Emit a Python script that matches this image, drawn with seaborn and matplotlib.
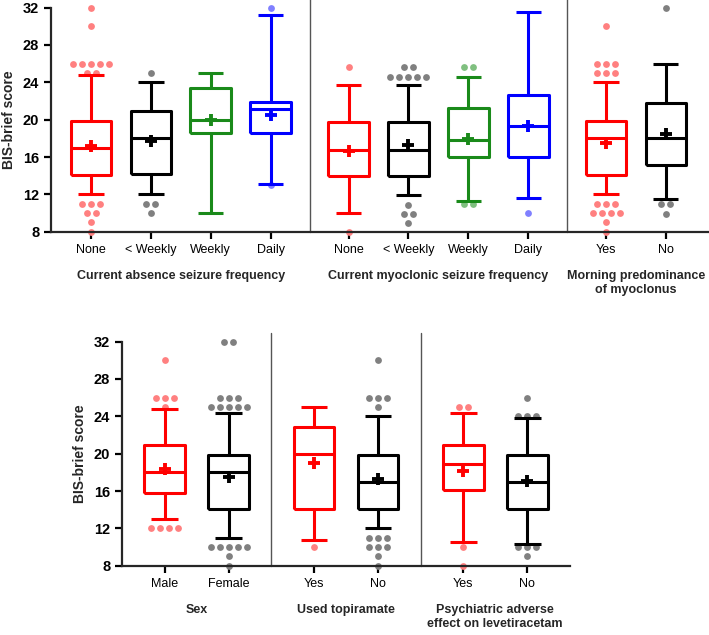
import matplotlib
matplotlib.use("Agg")
import numpy as np
import pandas as pd
import matplotlib.pyplot as plt
import seaborn as sns

# ---- top panel data ----
top_labels = ["None", "< Weekly", "Weekly", "Daily",
              "None", "< Weekly", "Weekly", "Daily",
              "Yes", "No"]
top_groups = [0, 0, 0, 0, 1, 1, 1, 1, 2, 2]
top_titles = ["Current absence seizure frequency",
              "Current myoclonic seizure frequency",
              "Morning predominance\nof myoclonus"]
top_colors = ["red", "black", "green", "blue",
              "red", "black", "green", "blue",
              "red", "black"]
top_med = [17.0, 18.0, 20.0, 21.1, 16.8, 16.8, 17.8, 19.3, 18.05, 18.0]
top_q1 = [14.1, 14.15, 18.6, 18.6, 14.0, 14.0, 16.0, 16.0, 14.1, 15.1]
top_q3 = [19.9, 20.9, 23.4, 21.9, 19.7, 19.7, 21.2, 22.6, 19.9, 21.8]
top_lo = [12.0, 12.0, 10.0, 13.1, 10.0, 11.9, 11.3, 11.6, 12.0, 11.5]
top_hi = [24.8, 24.0, 25.0, 31.2, 23.7, 23.7, 24.6, 31.5, 24.0, 26.0]
top_mean = [17.2, 17.7, 19.95, 20.5, 16.6, 17.3, 17.95, 19.3, 17.5, 18.5]
# outliers: (value, number of dots)
top_out = [
    [(32, 1), (30, 1), (26, 5), (25, 2), (11, 3), (10, 2), (9, 1), (8, 1)],
    [(25, 1), (11, 2), (10, 1)],
    [],
    [(32, 1), (13, 1)],
    [(25.6, 1), (8, 1)],
    [(25.6, 2), (24.6, 5), (10.9, 1), (9.95, 2), (8.95, 1)],
    [(25.6, 2), (10.95, 2)],
    [(10, 1)],
    [(30, 1), (26, 3), (25, 3), (11, 3), (10, 4), (9, 1), (8, 1)],
    [(32, 1), (10.95, 2), (9.95, 1)],
]

# ---- bottom panel data ----
bot_labels = ["Male", "Female", "Yes", "No", "Yes", "No"]
bot_groups = [0, 0, 1, 1, 2, 2]
bot_titles = ["Sex", "Used topiramate",
              "Psychiatric adverse\neffect on levetiracetam"]
bot_colors = ["red", "black", "red", "black", "red", "black"]
bot_med = [18.0, 18.0, 20.0, 17.0, 18.95, 17.0]
bot_q1 = [15.8, 14.1, 14.1, 14.1, 16.1, 14.1]
bot_q3 = [20.9, 19.9, 22.9, 19.9, 20.9, 19.9]
bot_lo = [13.0, 11.0, 10.75, 12.0, 10.6, 10.3]
bot_hi = [24.8, 24.35, 25.0, 24.0, 24.4, 23.8]
bot_mean = [18.4, 17.5, 19.05, 17.3, 18.2, 17.1]
bot_out = [
    [(30, 1), (26, 3), (25, 1), (12, 4)],
    [(32, 2), (26, 3), (25, 5), (10, 5), (9, 1), (8, 1)],
    [(10, 1)],
    [(30, 1), (26, 3), (25, 1), (11, 3), (10, 3), (9, 1), (8, 1)],
    [(25, 2), (10, 1), (8, 1)],
    [(26, 1), (24, 3), (10, 3), (9, 1)],
]

line_col = {"red": "#ff0000", "black": "#000000",
            "green": "#1a8a1a", "blue": "#0000ff"}
dot_col = {"red": "#ff8080", "black": "#808080",
           "green": "#80c080", "blue": "#8080ff"}

sns.set_style("ticks")
plt.rcParams["font.family"] = ["Liberation Sans", "DejaVu Sans"]
plt.rcParams["font.size"] = 9


def draw_panel(ax, labels, groups, titles, colors, med, q1, q3, lo, hi,
               mean, outs, gap, unit_px, xlim, box_w):
    pos = [i + gap * g for i, g in enumerate(groups)]
    dot_step = 9.0 / unit_px
    for i, p in enumerate(pos):
        c = colors[i]
        # outlier dots, spread sideways when values repeat
        xs, ys = [], []
        for v, n in outs[i]:
            for k in range(n):
                xs.append(p + (k - (n - 1) / 2) * dot_step)
                ys.append(v)
        if xs:
            sns.scatterplot(x=xs, y=ys, color=dot_col[c], s=24,
                            linewidth=0, ax=ax, zorder=2, clip_on=False)
        st = [dict(med=med[i], q1=q1[i], q3=q3[i], whislo=lo[i],
                   whishi=hi[i], mean=mean[i], fliers=[], label=labels[i])]
        lc = line_col[c]
        lp = dict(color=lc, linewidth=2.2, solid_capstyle="butt")
        ax.bxp(st, positions=[p], widths=box_w, capwidths=0.42,
               showmeans=True, showfliers=False, manage_ticks=False,
               boxprops=lp, whiskerprops=lp, capprops=lp,
               medianprops=lp,
               meanprops=dict(marker="+", markersize=9,
                              markeredgewidth=2.8, markeredgecolor=lc),
               zorder=3)
    ax.set_xticks(pos)
    ax.set_xticklabels(labels)
    ax.set_xlim(*xlim)
    ax.set_ylim(8, 32)
    ax.set_yticks(np.arange(8, 33, 4))
    sns.despine(ax=ax)
    ax.spines["left"].set_linewidth(1.6)
    ax.spines["bottom"].set_linewidth(1.6)
    ax.tick_params(axis="both", width=1.6, length=5, direction="out",
                   colors="black", labelsize=9)
    ax.tick_params(axis="y", labelsize=10.5)
    for lab in ax.get_yticklabels():
        lab.set_fontweight("bold")
    ax.set_ylabel("BIS-brief score", fontweight="bold", fontsize=10,
                  labelpad=5)
    # group separators and titles
    ng = max(groups) + 1
    for g in range(ng):
        gp = [p for p, gg in zip(pos, groups) if gg == g]
        ax.text(np.mean(gp), -0.17, titles[g], transform=ax.get_xaxis_transform(),
                ha="center", va="top", fontweight="bold", fontsize=9,
                linespacing=1.2)
        if g > 0:
            prev = [p for p, gg in zip(pos, groups) if gg == g - 1]
            ax.axvline((max(prev) + min(gp)) / 2, ymin=0, ymax=1.04,
                       color="#555555", linewidth=1.0, clip_on=False, zorder=1)


fig = plt.figure(figsize=(7.09, 6.35), dpi=100)
ax1 = fig.add_axes([0.072, 0.635, 0.928, 0.353])
ax2 = fig.add_axes([0.172, 0.109, 0.632, 0.353])

draw_panel(ax1, top_labels, top_groups, top_titles, top_colors, top_med,
           top_q1, top_q3, top_lo, top_hi, top_mean, top_out,
           gap=0.3, unit_px=59.9, xlim=(-0.668, 10.32), box_w=0.68)
draw_panel(ax2, bot_labels, bot_groups, bot_titles, bot_colors, bot_med,
           bot_q1, bot_q3, bot_lo, bot_hi, bot_mean, bot_out,
           gap=0.33, unit_px=64.0, xlim=(-0.67, 6.33), box_w=0.64)

fig.savefig("out.png", dpi=100)
